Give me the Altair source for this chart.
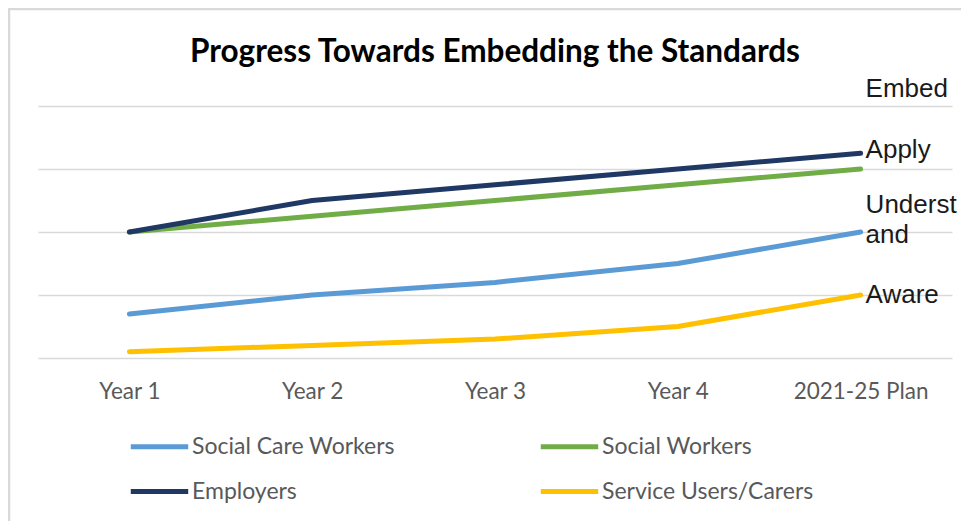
import altair as alt
import pandas as pd

categories = ["Year 1", "Year 2", "Year 3", "Year 4", "2021-25 Plan"]
series = ["Social Care Workers", "Social Workers", "Employers", "Service Users/Carers"]
social_care_workers = [0.7, 1.0, 1.2, 1.5, 2.0]
social_workers = [2.0, 2.25, 2.5, 2.75, 3.0]
employers = [2.0, 2.5, 2.75, 3.0, 3.25]
service_users = [0.1, 0.2, 0.3, 0.5, 1.0]
colors = ["#5B9BD5", "#70AD47", "#1F3864", "#FFC000"]
level_labels = ["Embed", "Apply", "Underst", "and", "Aware"]
level_label_y = [4.27, 3.3, 2.43, 1.95, 1.0]

rows = []
for name, vals in zip(series, [social_care_workers, social_workers, employers, service_users]):
    for c, v in zip(categories, vals):
        rows.append({"category": c, "series": name, "value": v})
df = pd.DataFrame(rows)
labels_df = pd.DataFrame({"category": [categories[-1]] * len(level_labels),
                          "label": level_labels, "y": level_label_y})

W, H = 914, 252
x_scale = alt.Scale(type="point", domain=categories, padding=0.5)
y_scale = alt.Scale(domain=[0, 4], nice=False)

lines = alt.Chart(df).mark_line(strokeWidth=5, strokeCap="round", strokeJoin="round").encode(
    x=alt.X("category:N", scale=x_scale, sort=categories,
            axis=alt.Axis(title=None, labelAngle=0, domain=False, ticks=False, grid=False,
                          labelColor="#595959", labelFont="Lato", labelFontSize=22.5,
                          labelPadding=22)),
    y=alt.Y("value:Q", scale=y_scale,
            axis=alt.Axis(title=None, values=[0, 1, 2, 3, 4], labels=False, domain=False,
                          ticks=False, grid=True, gridColor="#d9d9d9", gridWidth=1.5)),
    color=alt.Color("series:N", sort=series,
                    scale=alt.Scale(domain=series, range=colors),
                    legend=alt.Legend(title=None, orient="none", legendX=90, legendY=309,
                                      columns=2, direction="horizontal",
                                      symbolType="stroke", symbolSize=3300,
                                      symbolStrokeWidth=5, labelFont="Lato", labelFontSize=23,
                                      labelColor="#595959", labelOffset=1, columnPadding=135,
                                      rowPadding=1, labelLimit=400)),
    order=alt.Order("series:N"),
)

texts = alt.Chart(labels_df).mark_text(align="left", baseline="middle", dx=5,
                                       font="Liberation Sans", fontSize=26,
                                       color="#1a1a1a").encode(
    x=alt.X("category:N", scale=x_scale, sort=categories),
    y=alt.Y("y:Q", scale=y_scale),
    text="label:N",
)

border = alt.Data(values=[{"a": 1}])
left_border = alt.Chart(border).mark_rule(color="#d9d9d9", strokeWidth=2.5).encode(
    x=alt.value(-29), y=alt.value(-98), y2=alt.value(430))
top_border = alt.Chart(border).mark_rule(color="#d9d9d9", strokeWidth=2.5).encode(
    x=alt.value(-30), x2=alt.value(930), y=alt.value(-97))

chart = alt.layer(left_border, top_border, lines, texts).properties(
    width=W, height=H,
    title=alt.Title("Progress Towards Embedding the Standards", font="Lato", fontSize=31.5,
                    fontWeight="bold", color="#000000", anchor="middle", frame="group",
                    offset=0, dy=62),
    autosize=alt.AutoSizeParams(type="none"),
    padding={"left": 30, "top": 98, "right": 9, "bottom": 163},
).configure(background="white").configure_view(strokeWidth=0, stroke=None)

chart.save("out.html", embed_options={"renderer": "svg", "actions": False})
